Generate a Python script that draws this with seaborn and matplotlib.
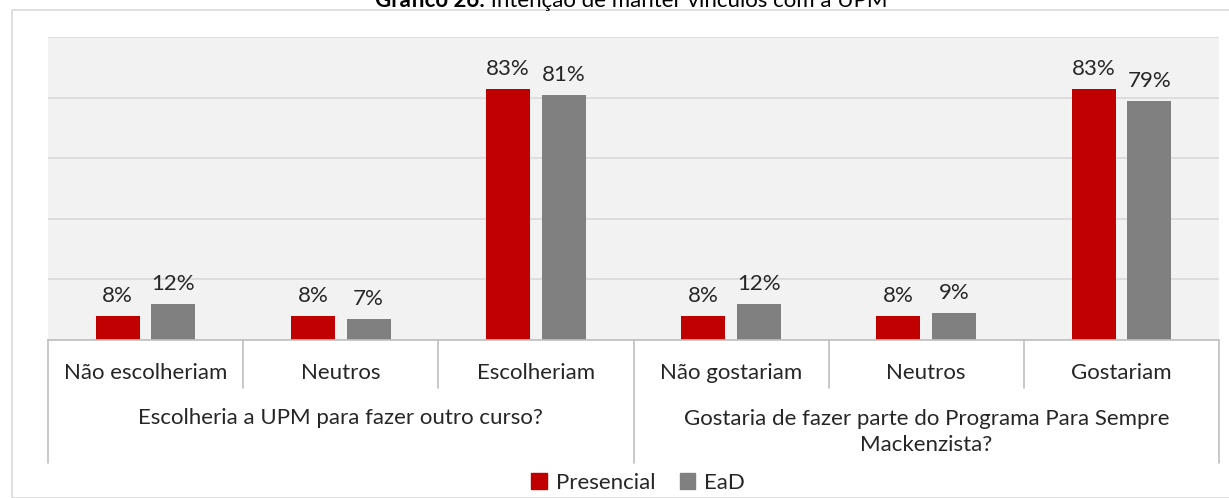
import pandas as pd
import seaborn as sns
import matplotlib.pyplot as plt
import matplotlib.transforms as mtransforms
from matplotlib.patches import Rectangle

# Data
categorias = ['Não escolheriam', 'Neutros', 'Escolheriam',
              'Não gostariam', 'Neutros', 'Gostariam']
grupos = ['Escolheria a UPM para fazer outro curso?',
          'Gostaria de fazer parte do Programa Para Sempre\nMackenzista?']
presencial = [8, 8, 83, 8, 8, 83]
ead = [12, 7, 81, 12, 9, 79]
series = ['Presencial', 'EaD']
cores = ['#C00000', '#808080']

# long-form table, one unique key per category position
chaves = [f'{i}' for i in range(len(categorias))]
df = pd.DataFrame({
    'cat': chaves * 2,
    'valor': presencial + ead,
    'serie': [series[0]] * len(chaves) + [series[1]] * len(chaves),
})

sns.set_theme(style='white')
plt.rcParams['font.family'] = ['Lato', 'DejaVu Sans']
fs = 16
cor_txt = '#262626'

W, H = 1229, 498
fig = plt.figure(figsize=(W / 100, H / 100), dpi=100)
ax = fig.add_axes([48 / W, 1 - 340 / H, (1219 - 48) / W, (340 - 37) / H])

# outer light frame
fig.patches.append(Rectangle((12 / W, 0), 1.2, 1 - 10 / H, transform=fig.transFigure,
                             fill=False, edgecolor='#D9D9D9', linewidth=1.2))

sns.barplot(data=df, x='cat', y='valor', hue='serie', order=chaves,
            hue_order=series, palette=cores, width=0.57, gap=0.21,
            saturation=1, linewidth=0, ax=ax, legend=False)

ax.set_facecolor('#F2F2F2')
ax.set_ylim(0, 100)
ax.set_xlim(-0.5, len(chaves) - 0.5)
ax.set_yticks(range(0, 101, 20))
ax.yaxis.grid(True, color='#D9D9D9', linewidth=1.2)
ax.set_axisbelow(True)
ax.tick_params(left=False, bottom=False, labelleft=False, labelbottom=False)
ax.set_xlabel('')
ax.set_ylabel('')
for s in ['top', 'right', 'left']:
    ax.spines[s].set_visible(False)
ax.spines['bottom'].set_color('#BFBFBF')
ax.spines['bottom'].set_linewidth(1.2)

for c in ax.containers:
    ax.bar_label(c, fmt='%d%%', padding=7, fontsize=fs, color=cor_txt)

# multi-level category axis
trans = mtransforms.blended_transform_factory(ax.transData, ax.transAxes)
px = 1 / (340 - 37)  # one pixel in axes units
for i in range(len(chaves) + 1):
    x = i - 0.5
    fundo = -(463 - 340) * px if i in (0, 3, 6) else -(388 - 340) * px
    ax.plot([x, x], [0, fundo], color='#BFBFBF', linewidth=1.2,
            transform=trans, clip_on=False)
for i, nome in enumerate(categorias):
    ax.text(i, -(373 - 340) * px, nome, transform=trans, ha='center',
            va='center', fontsize=fs, color=cor_txt)
ax.text(1, -(418 - 340) * px, grupos[0], transform=trans, ha='center',
        va='center', fontsize=fs, color=cor_txt)
ax.text(4, -(432 - 340) * px, grupos[1], transform=trans, ha='center',
        va='center', fontsize=fs, color=cor_txt, linespacing=1.35)

# title, cut at the top like the reference
t1 = fig.text(375 / W, 1 - 7 / H, 'Gráfico 26:', fontsize=fs, weight='bold',
              va='baseline', ha='left', color='#000000')
fig.add_artist(plt.Annotation(' Intenção de manter vínculos com a UPM',
                              xy=(1, 0), xycoords=t1, va='bottom', ha='left',
                              fontsize=fs, color='#000000'))

handles = [Rectangle((0, 0), 1, 1, color=c) for c in cores]
fig.legend(handles, series, loc='center', bbox_to_anchor=(638 / W, 15 / H),
           ncol=2, frameon=False, fontsize=fs, handlelength=0.7,
           handleheight=0.7, handletextpad=0.4, columnspacing=1.1,
           labelcolor=cor_txt)

fig.savefig('out.png', dpi=100)
